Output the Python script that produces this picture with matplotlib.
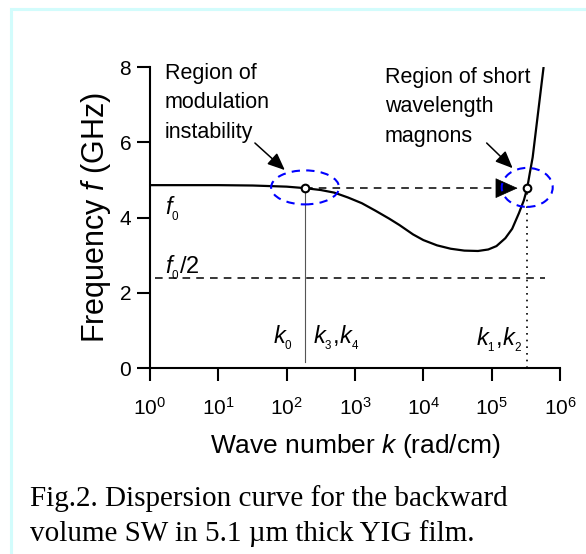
import matplotlib
matplotlib.use("Agg")
import matplotlib.pyplot as plt
from matplotlib.patches import Ellipse, Rectangle
from matplotlib.ticker import FixedLocator, NullLocator

plt.rcParams['font.family'] = ['Liberation Sans', 'DejaVu Sans']
plt.rcParams['mathtext.fontset'] = 'custom'
plt.rcParams['mathtext.rm'] = 'Liberation Sans'
plt.rcParams['mathtext.it'] = 'Liberation Sans:italic'

# Dispersion curve: wave number k (rad/cm) and frequency f (GHz)
wave_number = [1, 10, 32, 100, 186, 316, 500, 794, 1259, 1995, 3162, 4467,
               7079, 10000, 15849, 25119, 39811, 63096, 89125, 117490,
               158489, 199526, 251189, 295121, 331131, 363078, 398107,
               436516, 478630, 524807, 575440]
frequency = [4.86, 4.86, 4.85, 4.82, 4.78, 4.73, 4.66, 4.53, 4.38, 4.18,
             3.97, 3.80, 3.55, 3.40, 3.26, 3.17, 3.12, 3.11, 3.15, 3.24,
             3.45, 3.70, 4.12, 4.45, 4.78, 5.20, 5.60, 6.20, 6.80, 7.40,
             8.00]

f0_half = 2.40
k_mod = 186        # k3, k4
k_short = 331131   # k1, k2
f_pump = 4.78

x_ticks = [1, 10, 100, 1000, 10000, 100000, 1000000]
y_ticks = [0, 2, 4, 6, 8]

fig = plt.figure(figsize=(5.86, 5.54), dpi=100)

# light frame around the figure panel
fig.patches.append(Rectangle((11 / 586, -0.1), 1.2, (554 - 9) / 554 + 0.1,
                             transform=fig.transFigure, fill=False,
                             edgecolor='#d2fcfc', linewidth=2.2))

ax = fig.add_axes([150 / 586, (554 - 368) / 554, 410 / 586, 301 / 554])
ax.set_xscale('log')
ax.set_xlim(1, 1e6)
ax.set_ylim(0, 8)

for s in ('top', 'right'):
    ax.spines[s].set_visible(False)
for s in ('left', 'bottom'):
    ax.spines[s].set_linewidth(1.5)

ax.xaxis.set_major_locator(FixedLocator(x_ticks))
ax.xaxis.set_minor_locator(NullLocator())
ax.set_yticks(y_ticks)
ax.tick_params(axis='both', which='major', direction='out', length=9.5,
               width=1.5, labelsize=15, pad=4)
ax.tick_params(axis='x', pad=11)

ax.set_xlabel(r'Wave number $k$ (rad/cm)', fontsize=19, labelpad=10)
ax.set_ylabel(r'Frequency $f$ (GHz)', fontsize=22, labelpad=5)

# curve
ax.plot(wave_number, frequency, color='black', lw=1.6, clip_on=True,
        solid_capstyle='butt')

# f0/2 level
ax.plot([1.18, 5.95e5], [f0_half, f0_half], color='black', lw=1.1,
        dashes=(5, 4))

# vertical markers
ax.plot([k_mod, k_mod], [0.16, f_pump], color='#555555', lw=0.8)
ax.plot([k_short, k_short], [0, f_pump], color='black', lw=1.2,
        dashes=(1, 3))

# dashed transfer arrow
ax.plot([k_mod, 1.55e5], [f_pump, f_pump], color='black', lw=1.1,
        dashes=(5, 4))
ax.annotate('', xy=(2.4e5, f_pump), xytext=(1.5e5, f_pump),
            arrowprops=dict(arrowstyle='-|>,head_length=1.0,head_width=0.45',
                            color='black', lw=0.5, shrinkA=0, shrinkB=0,
                            mutation_scale=15))

# open circles
ax.plot([k_mod, k_short], [f_pump, f_pump], 'o', ms=5.5, mfc='white',
        mec='black', mew=1.5, zorder=5)

# dashed regions
to_axes = ax.transScale + ax.transLimits
for (k, f, w, h) in [(k_mod, 4.80, 68, 34), (k_short, 4.80, 51, 39)]:
    cx, cy = to_axes.transform((k, f))
    ax.add_patch(Ellipse((cx, cy), w / 410, h / 301, transform=ax.transAxes,
                         fill=False, edgecolor='#0000ff', lw=1.5,
                         linestyle=(0, (4, 3)), zorder=6))

# annotations
ax.text(1.66, 6.11, 'Region of\nmodulation\ninstability', fontsize=15.5,
        va='baseline', ha='left', linespacing=1.55)
ax.text(2730, 6.0, 'Region of short\nwavelength\nmagnons', fontsize=15.5,
        va='baseline', ha='left', linespacing=1.55)
ax.annotate('', xy=(94, 5.26), xytext=(34.3, 5.98),
            arrowprops=dict(arrowstyle='-|>,head_length=0.7,head_width=0.3',
                            color='black', lw=1.1, shrinkA=0, shrinkB=0,
                            mutation_scale=15))
ax.annotate('', xy=(2.03e5, 5.31), xytext=(8.45e4, 5.98),
            arrowprops=dict(arrowstyle='-|>,head_length=0.7,head_width=0.3',
                            color='black', lw=1.1, shrinkA=0, shrinkB=0,
                            mutation_scale=15))

ax.text(1.66, 4.07, r'$f_{_0}$', fontsize=17, ha='left', va='baseline')
ax.text(1.66, 2.52, r'$f_{_0}$/2', fontsize=17, ha='left', va='baseline')
ax.text(63, 0.65, r'$k_{_0}$', fontsize=17, ha='left', va='baseline')
ax.text(240, 0.65, r'$k_{_3}$,$k_{_4}$', fontsize=17, ha='left',
        va='baseline')
ax.text(2.8e5, 0.60, r'$k_{_1}$,$k_{_2}$', fontsize=17, ha='right',
        va='baseline')

fig.text(30 / 586, 1 - 541 / 554,
         'Fig.2. Dispersion curve for the backward\n'
         'volume SW in 5.1 \u00b5m thick YIG film.',
         family='Liberation Serif', fontsize=21, ha='left', va='baseline',
         linespacing=1.4)

fig.savefig('out.png', dpi=100)
